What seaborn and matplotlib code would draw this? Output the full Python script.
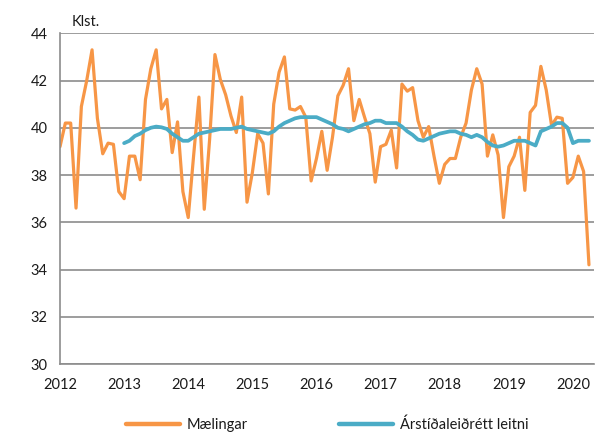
import numpy as np
import pandas as pd
import matplotlib
matplotlib.use("Agg")
import matplotlib.pyplot as plt
import seaborn as sns

# Monthly data, Jan 2012 - Apr 2020
maelingar = [
    39.2, 40.2, 40.2, 36.6, 40.9, 42.0, 43.3, 40.4, 38.9, 39.35, 39.3, 37.3,
    37.0, 38.8, 38.8, 37.8, 41.2, 42.5, 43.3, 40.8, 41.2, 38.95, 40.25, 37.3,
    36.2, 38.8, 41.3, 36.55, 39.5, 43.1, 42.05, 41.4, 40.5, 39.8, 41.3, 36.85,
    38.1, 39.75, 39.35, 37.2, 41.0, 42.35, 43.0, 40.8, 40.75, 40.9, 40.45, 37.75,
    38.7, 39.85, 38.2, 39.6, 41.35, 41.8, 42.5, 40.3, 41.2, 40.45, 39.75, 37.7,
    39.2, 39.3, 39.9, 38.3, 41.85, 41.55, 41.7, 40.3, 39.6, 40.05, 38.8, 37.65,
    38.45, 38.7, 38.7, 39.6, 40.2, 41.6, 42.5, 41.85, 38.8, 39.7, 38.85, 36.2,
    38.35, 38.8, 39.6, 37.35, 40.65, 40.95, 42.6, 41.6, 40.1, 40.45, 40.4, 37.65,
    37.9, 38.8, 38.15, 34.2,
]
# Seasonally adjusted trend, Jan 2013 - Apr 2020
leitni = [
    39.35, 39.45, 39.65, 39.75, 39.9, 40.0, 40.05, 40.02, 39.95, 39.75, 39.6, 39.45,
    39.45, 39.6, 39.75, 39.8, 39.85, 39.9, 39.95, 39.95, 39.95, 40.0, 40.05, 39.95,
    39.9, 39.85, 39.8, 39.75, 39.85, 40.05, 40.2, 40.3, 40.4, 40.45, 40.45, 40.45,
    40.45, 40.35, 40.25, 40.15, 40.0, 39.95, 39.85, 39.95, 40.05, 40.15, 40.2, 40.3,
    40.3, 40.2, 40.2, 40.2, 40.05, 39.85, 39.7, 39.5, 39.45, 39.55, 39.65, 39.75,
    39.8, 39.85, 39.85, 39.75, 39.7, 39.6, 39.7, 39.6, 39.4, 39.25, 39.2, 39.25,
    39.35, 39.45, 39.45, 39.45, 39.35, 39.25, 39.85, 39.95, 40.05, 40.2, 40.2, 40.0,
    39.35, 39.45, 39.45, 39.45,
]
years = ["2012", "2013", "2014", "2015", "2016", "2017", "2018", "2019", "2020"]
y_ticks = [30, 32, 34, 36, 38, 40, 42, 44]

label_m = "Mælingar"
label_l = "Árstíðaleiðrétt leitni"

n = len(maelingar)
df = pd.DataFrame({
    "month": np.arange(n),
    label_m: maelingar,
    label_l: [np.nan] * (n - len(leitni)) + leitni,
})
long = df.melt(id_vars="month", var_name="series", value_name="value").dropna()

sns.set_style("white")
plt.rcParams["font.family"] = ["Lato", "DejaVu Sans"]

fig = plt.figure(figsize=(6.05, 4.34), dpi=100)
ax = fig.add_axes([60 / 605, 1 - 364 / 434, (594.3 - 60) / 605, (364 - 33.3) / 434])

palette = {label_m: "#F79646", label_l: "#4BACC6"}
sns.lineplot(data=long, x="month", y="value", hue="series", palette=palette,
             hue_order=[label_m, label_l], ax=ax, linewidth=2.4,
             solid_joinstyle="round", solid_capstyle="round")
for line, lw in zip(ax.lines, [2.3, 2.7]):
    line.set_linewidth(lw)

ax.set_xlim(0, 100)
ax.set_ylim(30, 44)
ax.set_yticks(y_ticks)
ax.set_yticklabels([str(v) for v in y_ticks])
ax.set_xticks(np.arange(len(years)) * 12)
ax.set_xticklabels(years)
ax.set_xlabel("")
ax.set_ylabel("")

grid_c = "#8C8C8C"
ax.grid(axis="y", color=grid_c, linewidth=1.2)
ax.set_axisbelow(True)
for s in ["top", "right"]:
    ax.spines[s].set_visible(False)
for s in ["left", "bottom"]:
    ax.spines[s].set_color(grid_c)
    ax.spines[s].set_linewidth(1.2)
ax.tick_params(axis="both", which="major", direction="out", length=4, width=1.2,
               color=grid_c, labelsize=10.5, labelcolor="#1a1a1a", pad=6)
ax.tick_params(axis="y", pad=5)

ax.text(72 / 605, 1 - 21.5 / 434, "Klst.", transform=fig.transFigure,
        fontsize=10.5, color="#1a1a1a", va="center", ha="left")

handles, labels = ax.get_legend_handles_labels()
ax.legend(handles, labels, loc="center", bbox_to_anchor=(0.5, -0.185), ncol=2,
          frameon=False, fontsize=10.5, handlelength=3.7, handletextpad=0.45,
          columnspacing=6.3, labelcolor="#1a1a1a")
for lh in ax.get_legend().get_lines():
    lh.set_linewidth(3.2)

fig.savefig("out.png", dpi=100)
